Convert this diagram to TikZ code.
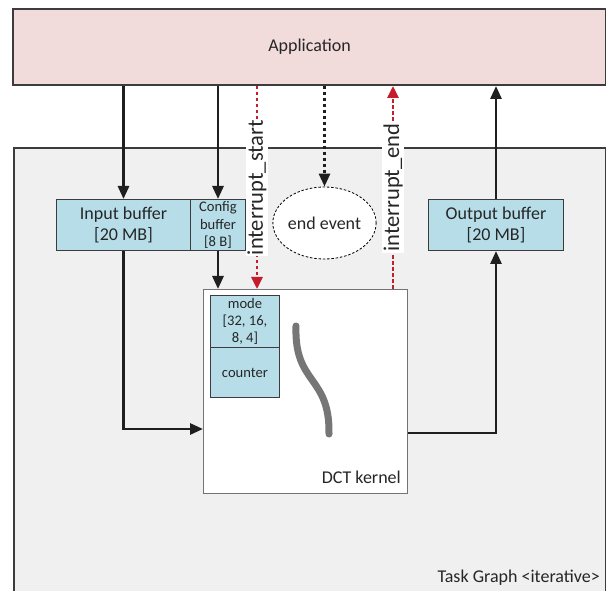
\documentclass[tikz,border=0pt]{standalone}
\usepackage{fontspec}
\setmainfont{Carlito}
\usetikzlibrary{arrows.meta,shapes.geometric}

\definecolor{appfill}{HTML}{F2DCDB}
\definecolor{graphfill}{HTML}{F0F0F0}
\definecolor{buf}{HTML}{B7DEE8}
\definecolor{edge}{HTML}{3C3C3C}
\definecolor{txt}{HTML}{262626}
\definecolor{irq}{HTML}{C41E2E}
\definecolor{strokegray}{HTML}{767676}

\begin{document}
\begin{tikzpicture}[x=1pt,y=-1pt,
  every node/.style={text=txt, inner sep=0pt, align=center},
  bigtext/.style={font=\fontsize{18}{21}\selectfont},
  smalltext/.style={font=\fontsize{14.6}{17.3}\selectfont},
  frame/.style={draw=edge, line width=2pt, anchor=north west},
  bufbox/.style={draw=edge, line width=1pt, fill=buf, anchor=north west},
  flow/.style={line width=2.8pt, draw=black!88, -{Triangle[length=13pt,width=11pt]}},
  dotflow/.style={line width=2.8pt, draw=black!88, dash pattern=on 3.5pt off 2.5pt,
    -{Triangle[length=13pt,width=11pt]}},
  irqflow/.style={line width=2.8pt, draw=irq, dash pattern=on 3.5pt off 2.5pt,
    -{Triangle[length=12pt,width=11pt]}},
  irqlabel/.style={fill=white, rotate=90, inner xsep=1pt, inner ysep=1.5pt,
    font=\fontsize{22.5}{25}\selectfont}]

\clip (0,0) rectangle (606,591);
\fill[white] (0,0) rectangle (606,591);

% application layer and task graph frame
\node[frame, fill=appfill, minimum width=593, minimum height=76, bigtext] (app) at (12,8) {Application};
\node[frame, fill=graphfill, minimum width=592, minimum height=470] (graph) at (13,147) {};
\node[bigtext, anchor=east] (graphlabel) at (600,578) {Task Graph <iterative>};

% buffers
\node[bufbox, minimum width=134, minimum height=51, bigtext] (input) at (56,199) {Input buffer\\{}[20 MB]};
\node[bufbox, minimum width=55, minimum height=51, smalltext] (config) at (190,199) {Config\\buffer\\{}[8 B]};
\node[bufbox, minimum width=135, minimum height=51, bigtext] (output) at (428,199) {Output buffer\\{}[20 MB]};

% end event
\node[ellipse, draw=black, line width=0.8pt, dash pattern=on 2.5pt off 1.8pt, fill=white,
  minimum width=103, minimum height=72, bigtext] (ev) at (324.5,223) {end event};

% DCT kernel with its registers
\node[draw=black!55, line width=1pt, fill=white, anchor=north west,
  minimum width=204, minimum height=204] (kernel) at (203,289) {};
\node[bufbox, minimum width=69, minimum height=52, smalltext] (mode) at (210,295) {mode\\{}[32, 16,\\8, 4]};
\node[bufbox, minimum width=69, minimum height=50, smalltext] (counter) at (210,347) {counter};
\node[bigtext, anchor=east] (kernellabel) at (401,477) {DCT kernel};
\draw[strokegray, line width=7pt, line cap=round]
  (296,326) .. controls (294,385) and (330,375) .. (329,434);

% helper coordinates
\coordinate (istart) at (257,0);
\coordinate (iend) at (393,0);
\coordinate (inY) at (0,429);
\coordinate (outY) at (0,433);

% data flow
\draw[flow] (app.south -| input.north) -- (input.north);
\draw[flow] (app.south -| config.north) -- (config.north);
\draw[flow] (config.south) -- (config.south |- kernel.north);
\draw[flow] (input.south) |- (kernel.west |- inY);
\draw[flow] (kernel.east |- outY) -| (output.south);
\draw[flow] (output.north) -- (output.north |- app.south);
\draw[dotflow] (app.south -| ev.north) -- (ev.north);

% interrupts
\draw[irqflow] (app.south -| istart) -- (kernel.north -| istart)
  node[midway, irqlabel] {interrupt\_start};
\draw[irqflow] (kernel.north -| iend) -- (app.south -| iend)
  node[midway, irqlabel] {interrupt\_end};

\end{tikzpicture}
\end{document}
